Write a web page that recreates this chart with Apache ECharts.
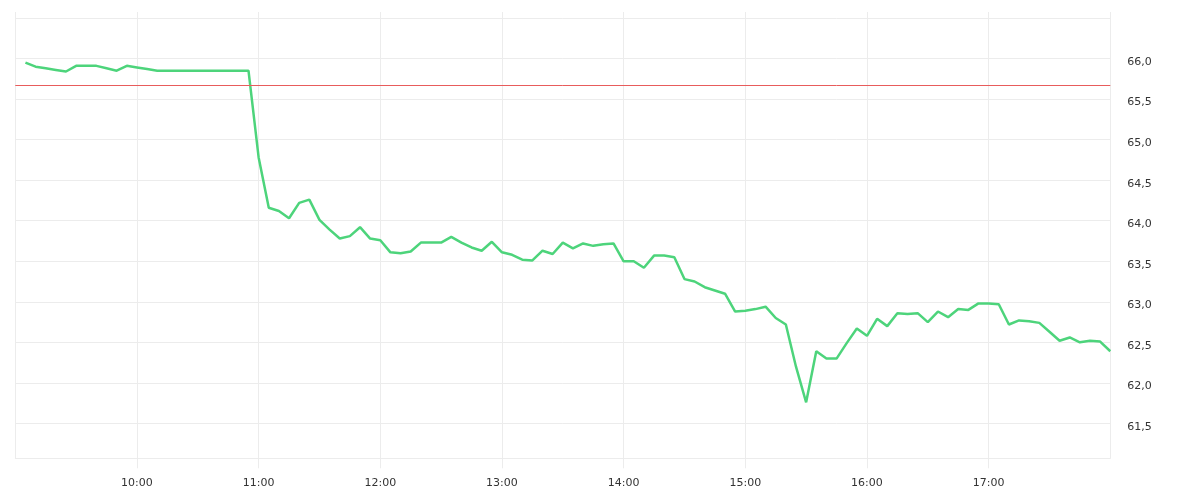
<!DOCTYPE html>
<html>
<head>
<meta charset="utf-8">
<title>Intraday price</title>
<script src="https://cdn.jsdelivr.net/npm/echarts@6/dist/echarts.min.js"></script>
<style>
  html, body { margin: 0; padding: 0; background: #fff; }
  #chart { width: 1200px; height: 500px; }
</style>
</head>
<body>
<div id="chart"></div>
<script>
// 时间点 (5 分钟)
const times = [
  '09:05', '09:10', '09:15', '09:20', '09:25', '09:30', '09:35', '09:40', '09:45', '09:50', '09:55',
  '10:00', '10:05', '10:10', '10:15', '10:20', '10:25', '10:30', '10:35', '10:40', '10:45', '10:50', '10:55',
  '11:00', '11:05', '11:10', '11:15', '11:20', '11:25', '11:30', '11:35', '11:40', '11:45', '11:50', '11:55',
  '12:00', '12:05', '12:10', '12:15', '12:20', '12:25', '12:30', '12:35', '12:40', '12:45', '12:50', '12:55',
  '13:00', '13:05', '13:10', '13:15', '13:20', '13:25', '13:30', '13:35', '13:40', '13:45', '13:50', '13:55',
  '14:00', '14:05', '14:10', '14:15', '14:20', '14:25', '14:30', '14:35', '14:40', '14:45', '14:50', '14:55',
  '15:00', '15:05', '15:10', '15:15', '15:20', '15:25', '15:30', '15:35', '15:40', '15:45', '15:50', '15:55',
  '16:00', '16:05', '16:10', '16:15', '16:20', '16:25', '16:30', '16:35', '16:40', '16:45', '16:50', '16:55',
  '17:00', '17:05', '17:10', '17:15', '17:20', '17:25', '17:30', '17:35', '17:40', '17:45', '17:50', '17:55',
  '18:00'
];

// 价格
const prices = [
  65.95, 65.90, 65.88, 65.86, 65.84, 65.91, 65.91, 65.91, 65.88, 65.85, 65.91,
  65.89, 65.87, 65.85, 65.85, 65.85, 65.85, 65.85, 65.85, 65.85, 65.85, 65.85, 65.85,
  64.78, 64.16, 64.12, 64.03, 64.22, 64.26, 64.01, 63.89, 63.78, 63.81, 63.92, 63.78,
  63.76, 63.61, 63.60, 63.62, 63.73, 63.73, 63.73, 63.80, 63.73, 63.67, 63.63, 63.74,
  63.61, 63.58, 63.52, 63.51, 63.63, 63.59, 63.73, 63.66, 63.72, 63.69, 63.71, 63.72,
  63.50, 63.50, 63.42, 63.57, 63.57, 63.55, 63.28, 63.25, 63.18, 63.14, 63.10, 62.88,
  62.89, 62.91, 62.94, 62.80, 62.72, 62.20, 61.76, 62.39, 62.30, 62.30, 62.49, 62.67,
  62.58, 62.79, 62.70, 62.86, 62.85, 62.86, 62.75, 62.88, 62.81, 62.91, 62.90, 62.98,
  62.98, 62.97, 62.72, 62.77, 62.76, 62.74, 62.63, 62.52, 62.56, 62.50, 62.52, 62.51,
  62.39
];

// 昨收参考线
const prevClose = 65.67;

// 坐标轴范围 (分钟 / 价格)
const xMin = 540;   // 09:00
const xMax = 1080;  // 18:00
const yMin = 61.07;
const yMax = 66.5;

const gridColor = '#ececec';
const labelStyle = { color: '#333', fontFamily: 'DejaVu Sans', fontSize: 11 };

document.addEventListener('DOMContentLoaded', function() {
  const chart = echarts.init(document.getElementById('chart'));
  chart.setOption(buildOption());
});

/**
 * "HH:MM" -> 分钟
 */
function toMinutes(t) {
  const [h, m] = t.split(':').map(Number);
  return h * 60 + m;
}

/**
 * 分钟 -> "HH:MM"
 */
function formatTime(v) {
  const h = Math.floor(v / 60);
  const m = v % 60;
  return String(h).padStart(2, '0') + ':' + String(m).padStart(2, '0');
}

function buildOption() {
  const data = times.map((t, i) => [toMinutes(t), prices[i]]);

  return {
    animation: false,
    grid: { left: 15.3, right: 89.7, top: 18, bottom: 41.7 },
    xAxis: [
      {
        type: 'value',
        min: xMin,
        max: xMax,
        interval: 60,
        axisLine: { show: true, lineStyle: { color: gridColor } },
        axisTick: { show: true, length: 10, lineStyle: { color: gridColor } },
        splitLine: { show: true, lineStyle: { color: gridColor } },
        axisLabel: Object.assign({
          margin: 19,
          showMinLabel: false,
          showMaxLabel: false,
          formatter: formatTime
        }, labelStyle)
      },
      {
        // 顶部短刻度
        type: 'value',
        position: 'top',
        min: xMin,
        max: xMax,
        interval: 60,
        axisLine: { show: false },
        axisTick: { show: true, length: 6, lineStyle: { color: gridColor } },
        splitLine: { show: false },
        axisLabel: { show: false }
      }
    ],
    yAxis: {
      type: 'value',
      position: 'right',
      min: yMin,
      max: yMax,
      splitNumber: 10,
      axisLine: { show: false },
      axisTick: { show: false },
      splitLine: { show: true, lineStyle: { color: gridColor } },
      axisLabel: Object.assign({
        margin: 17,
        verticalAlign: 'top',
        lineHeight: 7,
        showMinLabel: false,
        showMaxLabel: false,
        formatter: v => v.toFixed(1).replace('.', ',')
      }, labelStyle)
    },
    series: [{
      type: 'line',
      data: data,
      showSymbol: false,
      lineStyle: { color: '#4dd47b', width: 2.5 },
      itemStyle: { color: '#4dd47b' },
      markLine: {
        silent: true,
        symbol: 'none',
        label: { show: false },
        lineStyle: { color: '#e85c5c', type: 'solid', width: 1 },
        data: [{ yAxis: prevClose }]
      }
    }]
  };
}
</script>
</body>
</html>
